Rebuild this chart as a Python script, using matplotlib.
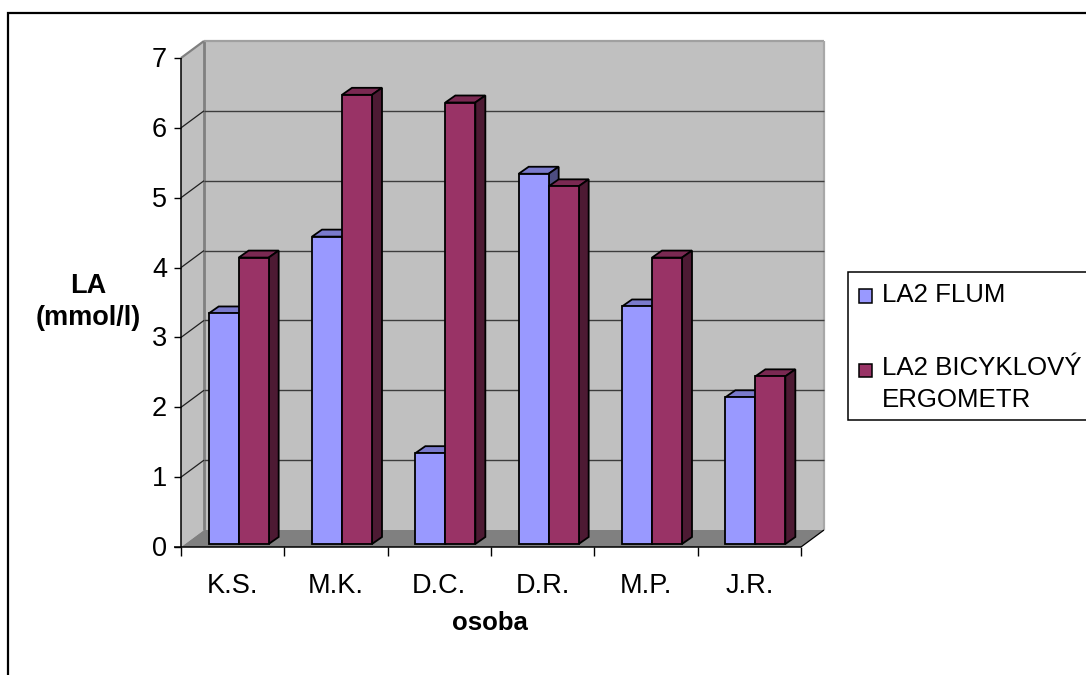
import matplotlib
matplotlib.use("Agg")
import matplotlib.pyplot as plt
from matplotlib.patches import Polygon, Rectangle
from matplotlib.lines import Line2D

plt.rcParams['font.family'] = ['Liberation Sans', 'DejaVu Sans']

categories = ["K.S.", "M.K.", "D.C.", "D.R.", "M.P.", "J.R."]
flum = [3.3, 4.4, 1.3, 5.3, 3.4, 2.1]
bicykl = [4.1, 6.43, 6.32, 5.12, 4.1, 2.4]
y_ticks = [0, 1, 2, 3, 4, 5, 6, 7]
series_names = ["LA2 FLUM", "LA2 BICYKLOVÝ\nERGOMETR"]
blue, blue_top, blue_side = "#9999ff", "#7a7acc", "#4d4d80"
red, red_top, red_side = "#993366", "#7a2952", "#4d1a33"

W, H = 1086, 675
fig = plt.figure(figsize=(W / 100, H / 100), dpi=100, facecolor="white")
L, R, B, T = 181, 801, 547, 58
ax = fig.add_axes([L / W, 1 - B / H, (R - L) / W, (B - T) / H])
ax.set_xlim(0, 6)
ax.set_ylim(0, 7)
ax.axis("off")

px = 6 / (R - L)          # data units per pixel in x
py = 7 / (B - T)          # data units per pixel in y
dx, dy = 23 * px, 17 * py # depth of the chart box
bdx, bdy = 10 * px, 7 * py # depth of one bar
sx, sy = 6 * px, 3 * py    # bar set back from the front plane
bw = 30 * px
TICK_FS = 19.5


def poly(pts, fc, ec="none", lw=0, z=1):
    ax.add_patch(Polygon(pts, closed=True, fc=fc, ec=ec, lw=lw, zorder=z,
                         clip_on=False, joinstyle="miter"))


def seg(xs, ys, c="black", lw=1.1, z=2):
    ax.add_line(Line2D(xs, ys, color=c, lw=lw, zorder=z, clip_on=False,
                       solid_capstyle="butt"))


# walls and floor
poly([(dx, dy), (6 + dx, dy), (6 + dx, 7 + dy), (dx, 7 + dy)], "#c0c0c0")
poly([(0, 0), (dx, dy), (dx, 7 + dy), (0, 7)], "#c0c0c0")
poly([(0, 0), (6, 0), (6 + dx, dy), (dx, dy)], "#808080")
seg([dx, dx], [dy, 7 + dy], "#808080", 2.0, 1.5)
seg([dx, 6 + dx], [7 + dy, 7 + dy], "#a0a0a0", 1.6, 1.5)
seg([6 + dx, 6 + dx], [dy, 7 + dy], "#a8a8a8", 1.6, 1.5)
seg([0, dx], [7, 7 + dy], "#808080", 1.6, 1.5)

# gridlines
for v in y_ticks[1:-1]:
    seg([dx, 6 + dx], [v + dy, v + dy], "#3c3c3c", 1.0, 1.8)
    seg([0, dx], [v, v + dy], "#202020", 0.9, 1.8)

# axes lines and ticks
seg([0, 0], [0, 7], "black", 1.1, 2)
seg([-7 * px, 6], [0, 0], "black", 1.1, 6)
seg([6, 6 + dx], [0, dy], "black", 0.9, 2)
for v in y_ticks:
    seg([-7 * px, 0], [v, v], "black", 1.0, 2)
    ax.text(-14 * px, v - 2 * py, str(v), ha="right", va="center", fontsize=TICK_FS, color="black")
for i in range(len(categories) + 1):
    seg([i, i], [0, -9 * py], "black", 1.0, 2)
for i, c in enumerate(categories):
    ax.text(i + 0.5, -39 * py, c, ha="center", va="center", fontsize=TICK_FS, color="black")


def bar3d(x, v, face, top, side, z):
    ax.bar(x, v, width=bw, bottom=sy, align="edge", color=face, edgecolor="black",
           linewidth=1.3, zorder=z + 0.2, clip_on=False)
    yt = v + sy
    poly([(x, yt), (x + bw, yt), (x + bw + bdx, yt + bdy), (x + bdx, yt + bdy)],
         top, "black", 1.3, z)
    poly([(x + bw, sy), (x + bw + bdx, sy + bdy), (x + bw + bdx, yt + bdy), (x + bw, yt)],
         side, "black", 1.3, z)


for i, (a, b) in enumerate(zip(flum, bicykl)):
    x0 = i + 0.5 - bw + sx
    z = 3 + i
    bar3d(x0, a, blue, blue_top, blue_side, z)
    bar3d(x0 + bw, b, red, red_top, red_side, z + 0.4)

# axis titles
fig.text(88 / W, 1 - 302 / H, "LA\n(mmol/l)", ha="center", va="center",
         fontsize=19.5, fontweight="bold", linespacing=1.33)
fig.text(490 / W, 1 - 623.5 / H, "osoba", ha="center", va="center",
         fontsize=18.5, fontweight="bold")

# outer frame
fig.add_artist(Line2D([8 / W, 8 / W, 1], [0, 1 - 13 / H, 1 - 13 / H],
                      color="black", lw=1.6, transform=fig.transFigure,
                      solid_joinstyle="miter"))

# legend
fig.add_artist(Line2D([1, 848 / W, 848 / W, 1],
                      [1 - 272 / H, 1 - 272 / H, 1 - 420 / H, 1 - 420 / H],
                      color="black", lw=1.1, transform=fig.transFigure,
                      solid_joinstyle="miter"))
for (yc, col) in [(296, blue), (370, red)]:
    fig.add_artist(Rectangle((859 / W, 1 - (yc + 6.5) / H), 13 / W, 13 / H, fc=col,
                             ec="black", lw=1.1, transform=fig.transFigure))
text_y = [295, 384]
for yc, name in zip(text_y, series_names):
    fig.text(882 / W, 1 - yc / H, name, ha="left", va="center", fontsize=18.6,
             linespacing=1.42, color="black")

fig.savefig("out.png", dpi=100, facecolor="white")
